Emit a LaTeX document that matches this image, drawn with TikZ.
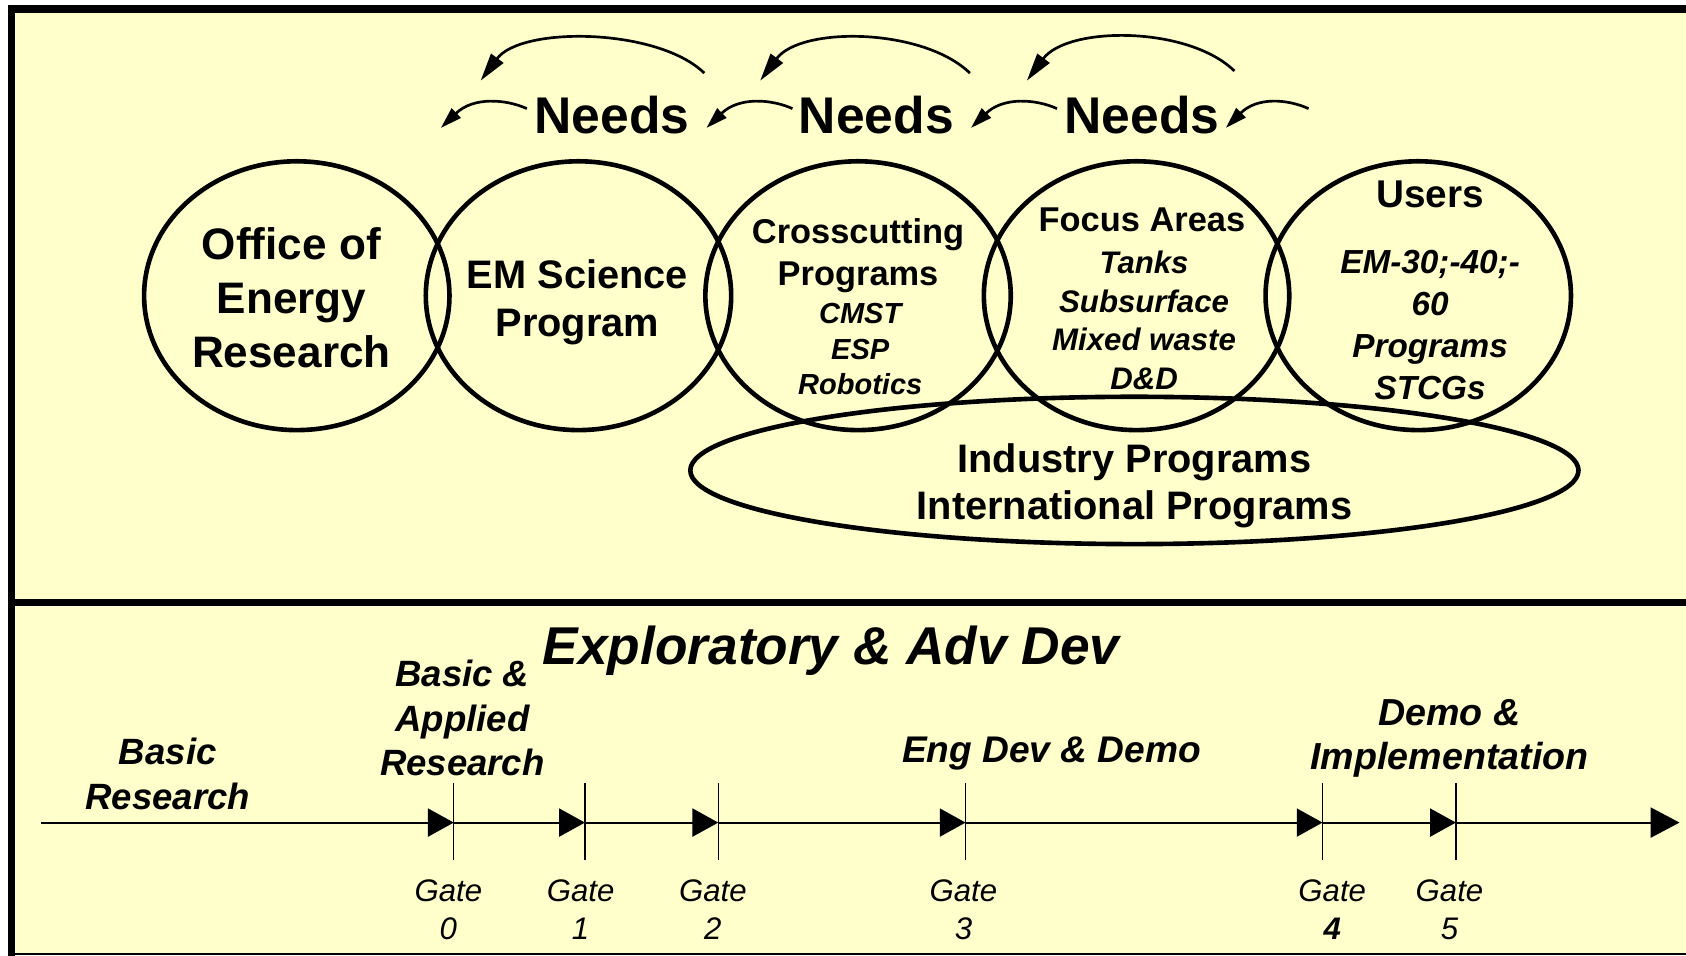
\documentclass[tikz,border=0pt]{standalone}
\usepackage{fontspec}
\setmainfont{Liberation Sans}
\usetikzlibrary{arrows.meta,shapes.geometric}
\definecolor{bgyellow}{RGB}{255,255,204}
\newcommand{\fsz}[2]{\fontsize{#1}{#2}\selectfont}
\begin{document}
\begin{tikzpicture}[x=1pt,y=-1pt,
  ring/.style={draw, line width=4.3pt, ellipse, minimum width=284pt, minimum height=250pt, inner sep=0pt},
  wide/.style={draw, line width=4.3pt, ellipse, minimum width=826pt, minimum height=137pt, inner sep=0pt},
  txt/.style={align=center, inner sep=0pt},
  bigarc/.style={line width=2.5pt, -{Triangle[length=26pt,width=14pt]}},
  smallarc/.style={line width=2.5pt, -{Triangle[length=20pt,width=12pt]}},
  tl/.style={line width=2pt, -{Triangle[length=24pt,width=26pt]}},
  tlend/.style={line width=2pt, -{Triangle[length=27pt,width=28pt]}},
  tick/.style={line width=1.3pt},
  gatelbl/.style={align=center, inner sep=0pt, font=\fsz{29}{35}\itshape}
]
\useasboundingbox (0,0) rectangle (1568,889);
\fill[white] (0,0) rectangle (1568,889);
\fill[bgyellow] (10,8) rectangle (1568,887);
% frame
\draw[line width=7pt] (10.7,889) -- (10.7,8.4) -- (1568,8.4);
\draw[line width=6.5pt] (10,560) -- (1568,560);
\draw[line width=1.5pt] (10,887.5) -- (1568,887.5);

% rings
\node[ring] (c1) at (276,275) {};
\node[ring] (c2) at (538,275) {};
\node[ring] (c3) at (798,275) {};
\node[ring] (c4) at (1057,275) {};
\node[ring] (c5) at (1319,275) {};
\node[wide] (ind) at (1055,437.5) {};

% ring texts
\node[txt, font=\fsz{41}{50}\bfseries] (t1) at (271,277) {Office of\\Energy\\Research};
\node[txt, font=\fsz{37}{44}\bfseries] (t2) at (537,281) {EM Science\\Program};
\node[txt, font=\fsz{32}{39}\bfseries] (t3) at (798,238) {Crosscutting\\Programs};
\node[txt, font=\fsz{27}{33}\bfseries\itshape] (t3b) at (800,325) {CMST\\ESP\\Robotics};
\node[txt, font=\fsz{32}{39}\bfseries] (t4) at (1062,204) {Focus Areas};
\node[txt, font=\fsz{29}{36}\bfseries\itshape] (t4b) at (1064,298) {Tanks\\Subsurface\\Mixed waste\\D\&D};
\node[txt, font=\fsz{36}{44}\bfseries] (t5) at (1330,181) {Users};
\node[txt, font=\fsz{31}{39}\bfseries\itshape] (t5b) at (1330,302) {EM-30;-40;-\\60\\Programs\\STCGs};
\node[txt, font=\fsz{37}{44}\bfseries] (t6) at (1055,452) {Industry Programs\\International Programs};

% needs
\node[txt, font=\fsz{48}{58}\bfseries] (n1) at (569,107) {Needs};
\node[txt, font=\fsz{48}{58}\bfseries] (n2) at (815,107) {Needs};
\node[txt, font=\fsz{48}{58}\bfseries] (n3) at (1062,107) {Needs};

% big arcs
\coordinate (b1s) at (655,68);  \coordinate (b1e) at (447,75);
\coordinate (b2s) at (902,68);  \coordinate (b2e) at (707,75);
\coordinate (b3s) at (1148,66); \coordinate (b3e) at (955,75);
\draw[bigarc] (b1s) .. controls (612,26) and (485,24) .. (b1e);
\draw[bigarc] (b2s) .. controls (859,26) and (745,24) .. (b2e);
\draw[bigarc] (b3s) .. controls (1105,24) and (993,24) .. (b3e);

% small arcs
\coordinate (s1s) at (490,101);  \coordinate (s1e) at (410,119);
\coordinate (s2s) at (737,101);  \coordinate (s2e) at (657,119);
\coordinate (s3s) at (983,101);  \coordinate (s3e) at (903,119);
\coordinate (s4s) at (1217,101); \coordinate (s4e) at (1140,119);
\draw[smallarc] (s1s) .. controls (470,92) and (440,90) .. (s1e);
\draw[smallarc] (s2s) .. controls (717,92) and (687,90) .. (s2e);
\draw[smallarc] (s3s) .. controls (963,92) and (933,90) .. (s3e);
\draw[smallarc] (s4s) .. controls (1197,92) and (1169,90) .. (s4e);

% lower panel titles
\node[txt, font=\fsz{49.5}{58}\bfseries\itshape] (ex) at (773,605) {Exploratory \& Adv Dev};
\node[txt, font=\fsz{34}{41.5}\bfseries\itshape] (bar) at (430,668) {Basic \&\\Applied\\Research};
\node[txt, font=\fsz{34}{42}\bfseries\itshape] (br) at (156,720) {Basic\\Research};
\node[txt, font=\fsz{34.5}{41}\bfseries\itshape] (edd) at (978,701) {Eng Dev \& Demo};
\node[txt, font=\fsz{35}{41}\bfseries\itshape] (di) at (1348,687) {Demo \&\\Implementation};

% timeline
\coordinate (t0) at (38,765);
\coordinate (g0) at (422,765);
\coordinate (g1) at (544,765);
\coordinate (g2) at (668,765);
\coordinate (g3) at (898,765);
\coordinate (g4) at (1230,765);
\coordinate (g5) at (1354,765);
\coordinate (tend) at (1562,765);
\draw[tl] (t0) -- (g0);
\draw[tl] (g0) -- (g1);
\draw[tl] (g1) -- (g2);
\draw[tl] (g2) -- (g3);
\draw[tl] (g3) -- (g4);
\draw[tl] (g4) -- (g5);
\draw[tlend] (g5) -- (tend);
\foreach \x in {422,544,668,898,1230,1354} {\draw[tick] (\x,728) -- (\x,800);}

% gate labels
\node[gatelbl] (l0) at (417,846) {Gate\\0};
\node[gatelbl] (l1) at (540,846) {Gate\\1};
\node[gatelbl] (l2) at (663,846) {Gate\\2};
\node[gatelbl] (l3) at (896,846) {Gate\\3};
\node[gatelbl] (l4) at (1239,846) {Gate\\\textbf{4}};
\node[gatelbl] (l5) at (1348,846) {Gate\\5};
\end{tikzpicture}
\end{document}
